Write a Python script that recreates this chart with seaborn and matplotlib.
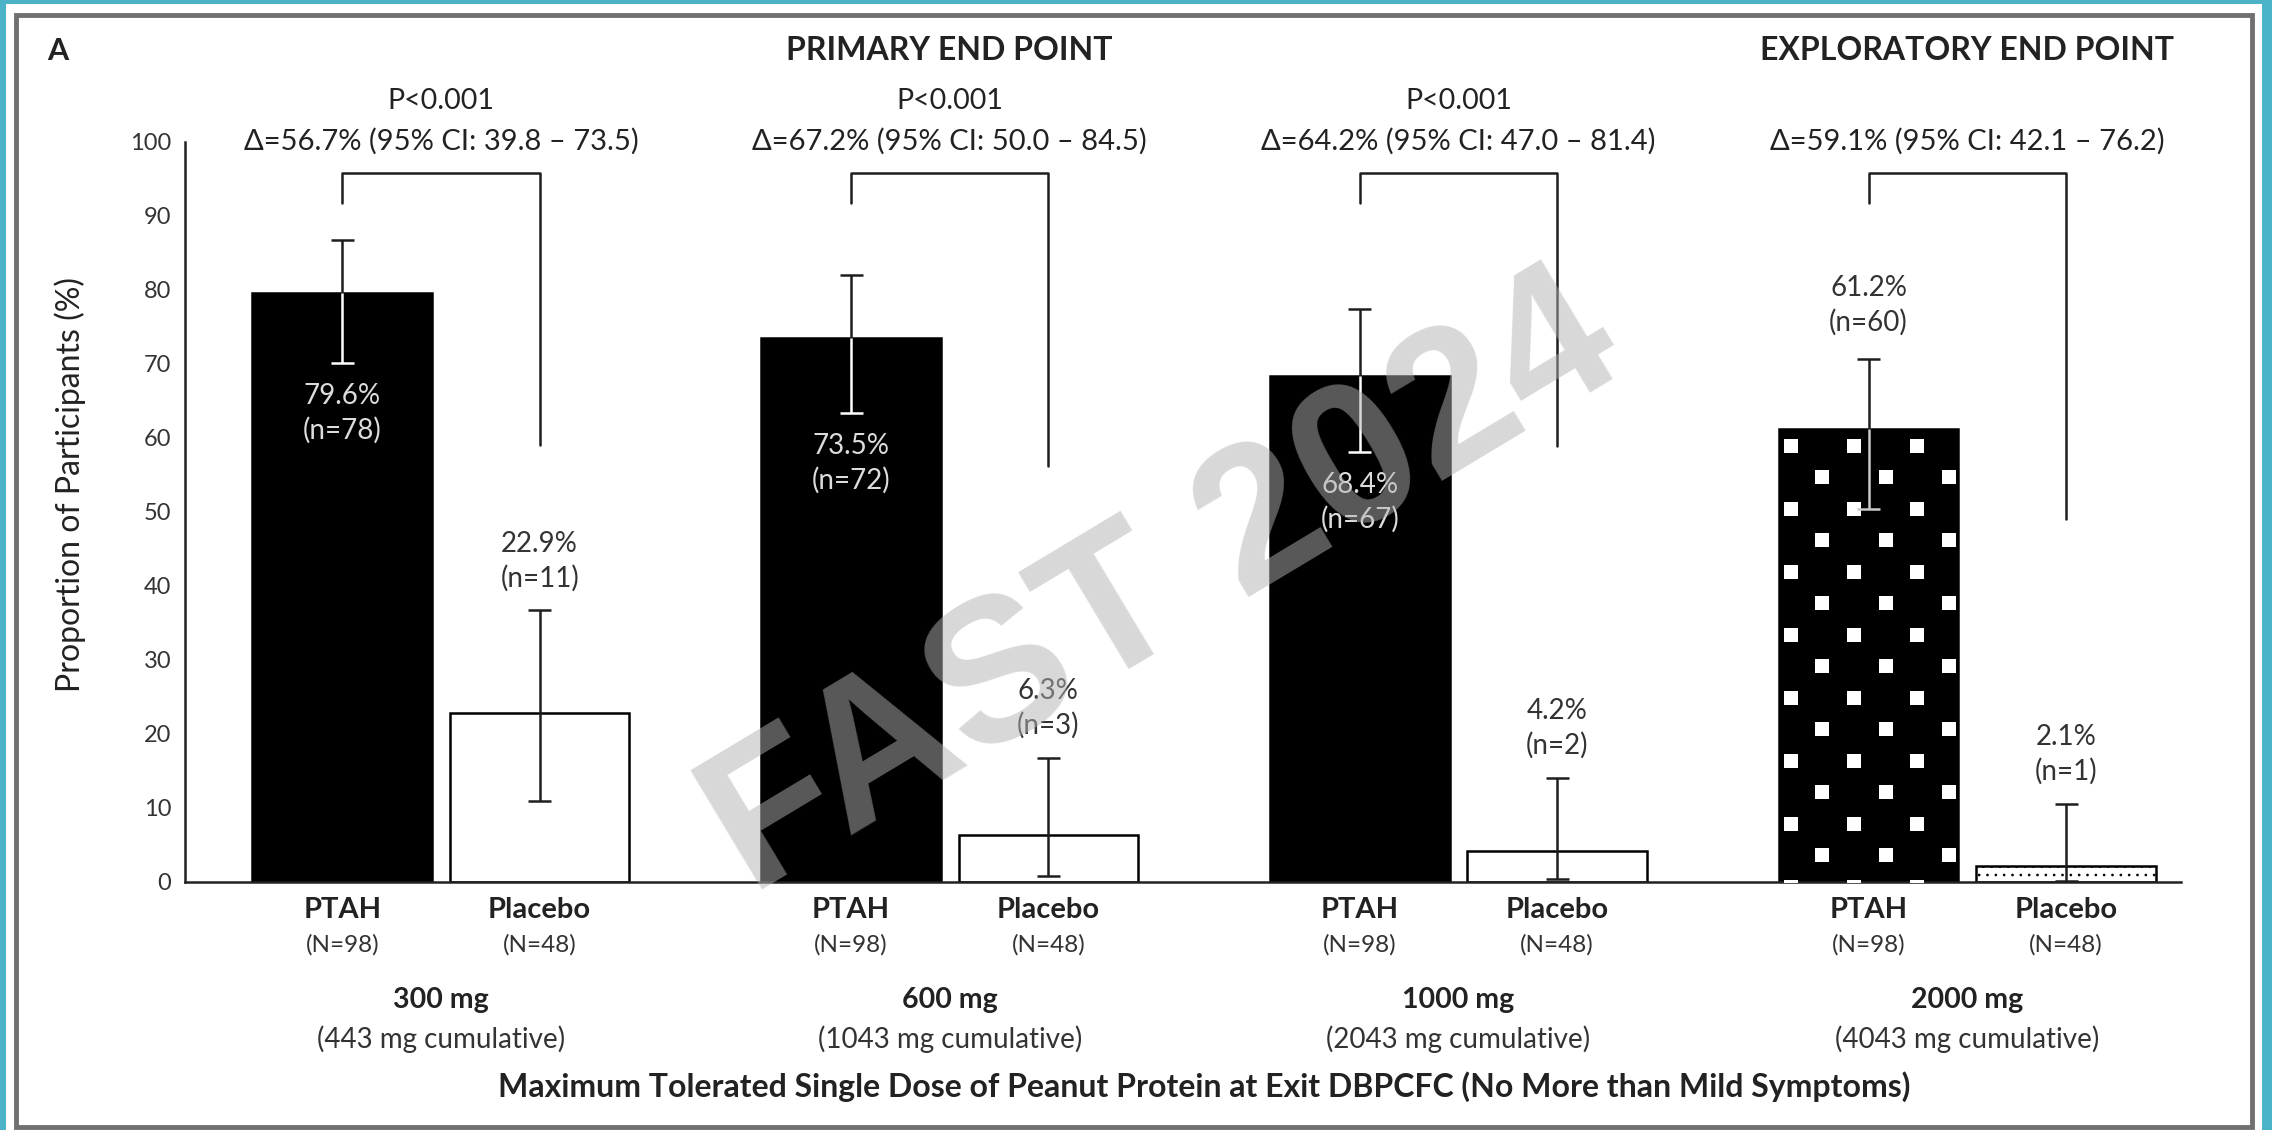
import numpy as np
import pandas as pd
import matplotlib
matplotlib.use('Agg')
import matplotlib.pyplot as plt
import matplotlib.transforms as mtransforms
from matplotlib.patches import Rectangle
import seaborn as sns

# data
doses = ['300 mg', '600 mg', '1000 mg', '2000 mg']
cumulative = ['(443 mg cumulative)', '(1043 mg cumulative)',
              '(2043 mg cumulative)', '(4043 mg cumulative)']
arms = ['PTAH', 'Placebo']
arm_n = ['(N=98)', '(N=48)']

ptah_pct = [79.6, 73.5, 68.4, 61.2]
ptah_n = [78, 72, 67, 60]
ptah_lo = [70.2, 63.4, 58.1, 50.4]
ptah_hi = [86.8, 82.0, 77.5, 70.7]

placebo_pct = [22.9, 6.3, 4.2, 2.1]
placebo_n = [11, 3, 2, 1]
placebo_lo = [11.0, 0.8, 0.4, 0.1]
placebo_hi = [36.7, 16.8, 14.1, 10.6]

p_values = ['P<0.001', 'P<0.001', 'P<0.001', '']
deltas = ['Δ=56.7% (95% CI: 39.8 – 73.5)', 'Δ=67.2% (95% CI: 50.0 – 84.5)',
          'Δ=64.2% (95% CI: 47.0 – 81.4)', 'Δ=59.1% (95% CI: 42.1 – 76.2)']
bracket_top = 95.8
bracket_left_end = [91.8, 91.8, 91.8, 91.8]
bracket_right_end = [59.0, 56.2, 58.9, 49.1]
patterned = [False, False, False, True]   # exploratory end point

sns.set_style('white')
plt.rcParams['font.family'] = ['Lato', 'DejaVu Sans']
plt.rcParams['hatch.linewidth'] = 0.7

INK = '#1e1e1e'
W, H = 2272, 1130

fig = plt.figure(figsize=(W / 100, H / 100), dpi=100, facecolor='#4cb2c8')
# white card with grey frame
fig.patches.append(Rectangle((6 / W, 0), 2256 / W, 1 - 4 / H, transform=fig.transFigure,
                             facecolor='white', edgecolor='none', zorder=-10))
fig.patches.append(Rectangle((16 / W, 3 / H), 2236 / W, 1 - 18 / H, transform=fig.transFigure,
                             facecolor='none', edgecolor='#707070', linewidth=3.5, zorder=-9))

ax = fig.add_axes([185 / W, 1 - 882 / H, (2181 - 185) / W, (882 - 142) / H])
ax.patch.set_alpha(0)

df = pd.DataFrame({
    'dose': doses * 2,
    'arm': ['PTAH'] * len(doses) + ['Placebo'] * len(doses),
    'pct': ptah_pct + placebo_pct,
})
sns.barplot(data=df, x='dose', y='pct', hue='arm', order=doses, hue_order=arms,
            palette={'PTAH': 'black', 'Placebo': 'white'}, saturation=1,
            width=0.776, gap=0.09, edgecolor='black', linewidth=1.8,
            errorbar=None, legend=False, ax=ax)

ptah_bars = list(ax.containers[0])
placebo_bars = list(ax.containers[1])
xp = [b.get_x() + b.get_width() / 2 for b in ptah_bars]
xq = [b.get_x() + b.get_width() / 2 for b in placebo_bars]

ax.set_xlim(-0.503, 3.42)
ax.set_ylim(0, 100)
ax.set_yticks(np.arange(0, 101, 10))
ax.set_xticks([])
ax.set_xlabel('')
ax.set_ylabel('')
ax.tick_params(axis='y', direction='out', length=7, width=1.8, color='#333',
               labelsize=17, labelcolor='#333', pad=3)
sns.despine(ax=ax)
for s in ['left', 'bottom']:
    ax.spines[s].set_linewidth(1.8)
    ax.spines[s].set_color('#222')

# dotted texture on exploratory PTAH bar, placebo texture
for i, flag in enumerate(patterned):
    if not flag:
        continue
    bar = ptah_bars[i]
    x0, w, h = bar.get_x(), bar.get_width(), bar.get_height()
    xs, ys = [], []
    for k, yy in enumerate(np.arange(-0.67, h + 2, 4.26)):
        start = 0.066 if k % 2 == 0 else 0.243
        for fx in np.arange(start, 1.05, 0.353):
            xs.append(x0 + fx * w)
            ys.append(yy)
    sc = ax.scatter(xs, ys, marker='s', s=115, color='white', linewidths=0, zorder=3)
    sc.set_clip_path(bar)
    placebo_bars[i].set_hatch('..')

cap = 0.0226
lab = 20
for i in range(len(doses)):
    # PTAH error bar: white inside the bar, black above it
    inside = 'white' if not patterned[i] else '#c8c8c8'
    ax.vlines(xp[i], ptah_pct[i], ptah_hi[i], color=INK, lw=1.8, zorder=4)
    ax.hlines(ptah_hi[i], xp[i] - cap, xp[i] + cap, color=INK, lw=1.8, zorder=4)
    ax.vlines(xp[i], ptah_lo[i], ptah_pct[i], color=inside, lw=1.8, zorder=4)
    ax.hlines(ptah_lo[i], xp[i] - cap, xp[i] + cap, color=inside, lw=1.8, zorder=4)
    # placebo error bar
    ax.vlines(xq[i], placebo_lo[i], placebo_hi[i], color=INK, lw=1.8, zorder=4)
    ax.hlines([placebo_lo[i], placebo_hi[i]], xq[i] - cap, xq[i] + cap, color=INK, lw=1.8, zorder=4)

    # value labels
    if patterned[i]:
        ax.text(xp[i], ptah_hi[i] + 9.6, f'{ptah_pct[i]}%', ha='center', va='center', fontsize=lab, color='#333', zorder=5)
        ax.text(xp[i], ptah_hi[i] + 4.9, f'(n={ptah_n[i]})', ha='center', va='center', fontsize=lab, color='#333', zorder=5)
    else:
        ax.text(xp[i], ptah_lo[i] - 4.5, f'{ptah_pct[i]}%', ha='center', va='center', fontsize=lab, color='#dcdcdc', zorder=5)
        ax.text(xp[i], ptah_lo[i] - 9.1, f'(n={ptah_n[i]})', ha='center', va='center', fontsize=lab, color='#dcdcdc', zorder=5)
    ax.text(xq[i], placebo_hi[i] + 9.0, f'{placebo_pct[i]}%', ha='center', va='center', fontsize=lab, color='#333', zorder=5)
    ax.text(xq[i], placebo_hi[i] + 4.4, f'(n={placebo_n[i]})', ha='center', va='center', fontsize=lab, color='#333', zorder=5)

    # comparison bracket
    ax.plot([xp[i], xp[i], xq[i], xq[i]],
            [bracket_left_end[i], bracket_top, bracket_top, bracket_right_end[i]],
            color=INK, lw=1.8, clip_on=False, zorder=4)

# text in figure rows, aligned to data x
tr = mtransforms.blended_transform_factory(ax.transData, fig.transFigure)

def fy(px):
    return 1 - px / H

for i in range(len(doses)):
    gx = (xp[i] + xq[i]) / 2
    if p_values[i]:
        fig.text(gx, fy(101), p_values[i], transform=tr, ha='center', va='center', fontsize=20.5, color='#222')
    fig.text(gx, fy(141), deltas[i], transform=tr, ha='center', va='center', fontsize=21, color='#222')
    for xx, name, nn in [(xp[i], arms[0], arm_n[0]), (xq[i], arms[1], arm_n[1])]:
        fig.text(xx, fy(910), name, transform=tr, ha='center', va='center', fontsize=21, fontweight='bold', color='#222')
        fig.text(xx, fy(945), nn, transform=tr, ha='center', va='center', fontsize=17.5, color='#333')
    fig.text(gx, fy(1000), doses[i], transform=tr, ha='center', va='center', fontsize=20.5, fontweight='bold', color='#222')
    fig.text(gx, fy(1039), cumulative[i], transform=tr, ha='center', va='center', fontsize=20, color='#333')

fig.text(1.0, fy(51), 'PRIMARY END POINT', transform=tr, ha='center', va='center', fontsize=23, fontweight='bold', color='#222')
fig.text(3.0, fy(51), 'EXPLORATORY END POINT', transform=tr, ha='center', va='center', fontsize=23, fontweight='bold', color='#222')
fig.text(1.5, fy(1087), 'Maximum Tolerated Single Dose of Peanut Protein at Exit DBPCFC (No More than Mild Symptoms)',
         transform=tr, ha='center', va='center', fontsize=23, fontweight='bold', color='#222')
fig.text(58 / W, fy(51), 'A', ha='center', va='center', fontsize=22, fontweight='bold', color='#222')
fig.text(70 / W, fy(485), 'Proportion of Participants (%)', rotation=90, ha='center', va='center', fontsize=23, color='#222')

# watermark
fig.text(0.512, 0.480, 'FAST 2024', rotation=31, ha='center', va='center', fontsize=146,
         fontweight='bold', family=['Liberation Sans', 'DejaVu Sans'], color='#b2b2b2', alpha=0.5, zorder=20)

fig.savefig('out.png', dpi=100, facecolor=fig.get_facecolor())
